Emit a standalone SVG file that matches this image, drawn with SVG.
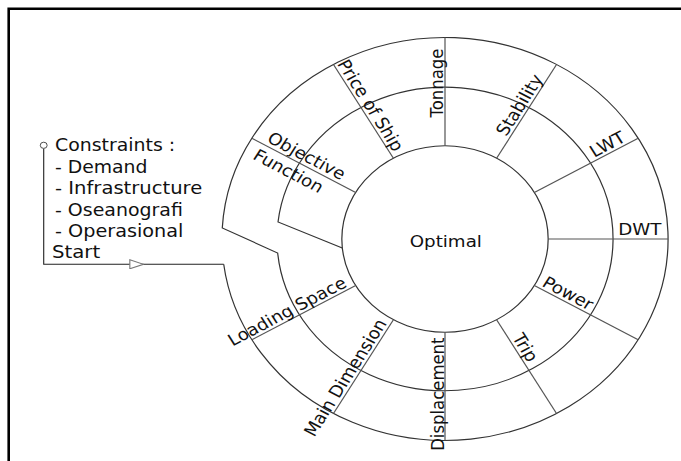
<svg xmlns="http://www.w3.org/2000/svg" width="681" height="461" viewBox="0 0 681 461">
  <style>
    .ring { fill: none; stroke: #333; stroke-width: 1.1; }
    .divider { stroke: #555; stroke-width: 1.1; }
    .lbl { font-family: "DejaVu Sans", Verdana, sans-serif; font-size: 16.5px; fill: #111; }
    .note { font-family: "DejaVu Sans", Verdana, sans-serif; font-size: 17px; fill: #111; }
    .wire { fill: none; stroke: #222; stroke-width: 1; }
  </style>
  <defs>
    <!-- hollow arrowhead on the start line -->
    <marker id="open-tri" viewBox="0 0 13.3 10" refX="13.3" refY="5" markerWidth="13.3" markerHeight="10" markerUnits="userSpaceOnUse" orient="auto">
      <path d="M0.5 0.5 L12.8 5 L0.5 9.5 Z" fill="#fff" stroke="#777" stroke-width="1"/>
    </marker>
  </defs>

  <rect width="681" height="461" fill="#fff"/>
  <!-- frame -->
  <path d="M8.7 461 V8.7 H681" fill="none" stroke="#000" stroke-width="2.6"/>

  <!-- whole chart drawn round the centre, stretched horizontally -->
  <g transform="translate(445 239) scale(1.107 1)">

    <!-- spiral rings -->
    <g id="rings">
      <circle class="ring" cx="0" cy="0" r="93.2"/>
      <path class="ring" d="M-199.9 25.3 A201.5 201.5 0 1 0 -201.2 -11 L-151.15 14 A151.8 151.8 0 1 0 -150.85 -17 L-92.8 9"/>
    </g>

    <!-- radial dividers every 30 degrees -->
    <g id="connectors">
      <line class="divider" x1="93.2" y1="0" x2="201.5" y2="0"/>
      <line class="divider" x1="80.7" y1="-46.6" x2="174.5" y2="-100.75"/>
      <line class="divider" x1="46.6" y1="-80.7" x2="100.75" y2="-174.5"/>
      <line class="divider" x1="0" y1="-93.2" x2="0" y2="-201.5"/>
      <line class="divider" x1="-46.6" y1="-80.7" x2="-100.75" y2="-174.5"/>
      <line class="divider" x1="-80.7" y1="-46.6" x2="-174.5" y2="-100.75"/>
      <line class="divider" x1="-80.7" y1="46.6" x2="-174.5" y2="100.75"/>
      <line class="divider" x1="-46.6" y1="80.7" x2="-100.75" y2="174.5"/>
      <line class="divider" x1="0" y1="93.2" x2="0" y2="201.5"/>
      <line class="divider" x1="46.6" y1="80.7" x2="100.75" y2="174.5"/>
      <line class="divider" x1="80.7" y1="46.6" x2="174.5" y2="100.75"/>
      <!-- start line into the outer ring -->
      <path class="wire" d="M-362.5 -90.5 V25.3 H-271.9" marker-end="url(#open-tri)"/>
      <path class="wire" d="M-271.9 25.3 H-199.9"/>
    </g>

    <g id="optimal">
      <text class="lbl" x="0.7" y="7.7" text-anchor="middle">Optimal</text>
    </g>
    <g id="dwt"><text class="lbl" x="156.5" y="-4">DWT</text></g>
    <g id="lwt"><text class="lbl" transform="rotate(-30)" x="157.5" y="-3">LWT</text></g>
    <g id="stability"><text class="lbl" transform="rotate(-60)" x="116" y="-3">Stability</text></g>
    <g id="tonnage"><text class="lbl" transform="rotate(-90)" x="121.5" y="-2.2">Tonnage</text></g>
    <g id="price-of-ship"><text class="lbl" transform="rotate(60)" x="-98" y="-3" text-anchor="end">Price of Ship</text></g>
    <g id="objective-function">
      <text class="lbl" transform="rotate(30)" x="-189" y="-3.8">Objective</text>
      <text class="lbl" transform="rotate(30)" x="-191.5" y="17.5">Function</text>
    </g>
    <g id="loading-space"><text class="lbl" transform="rotate(-30)" x="-99.5" y="-3" text-anchor="end">Loading Space</text></g>
    <g id="main-dimension"><text class="lbl" transform="rotate(-60)" x="-99" y="-3" text-anchor="end">Main Dimension</text></g>
    <g id="displacement"><text class="lbl" transform="rotate(-90)" x="-98.5" y="-1" text-anchor="end">Displacement</text></g>
    <g id="trip"><text class="lbl" transform="rotate(60)" x="115.5" y="-3">Trip</text></g>
    <g id="power"><text class="lbl" transform="rotate(30)" x="98.5" y="-3">Power</text></g>

    <!-- constraints list feeding the start line -->
    <g id="constraints">
      <circle cx="-362.5" cy="-93.7" r="3.1" fill="#fff" stroke="#444" stroke-width="0.9"/>
      <text class="note" x="-352.3" y="-88.3" textLength="108.5" lengthAdjust="spacingAndGlyphs">Constraints :</text>
      <text class="note" x="-352.3" y="-66.3" textLength="83.5" lengthAdjust="spacingAndGlyphs">- Demand</text>
      <text class="note" x="-352.3" y="-44.7" textLength="133" lengthAdjust="spacingAndGlyphs">- Infrastructure</text>
      <text class="note" x="-352.3" y="-23.5" textLength="115.5" lengthAdjust="spacingAndGlyphs">- Oseanografi</text>
      <text class="note" x="-352.3" y="-1.9" textLength="116" lengthAdjust="spacingAndGlyphs">- Operasional</text>
      <text class="note" x="-355" y="19.3" textLength="43.5" lengthAdjust="spacingAndGlyphs">Start</text>
    </g>
  </g>
</svg>
